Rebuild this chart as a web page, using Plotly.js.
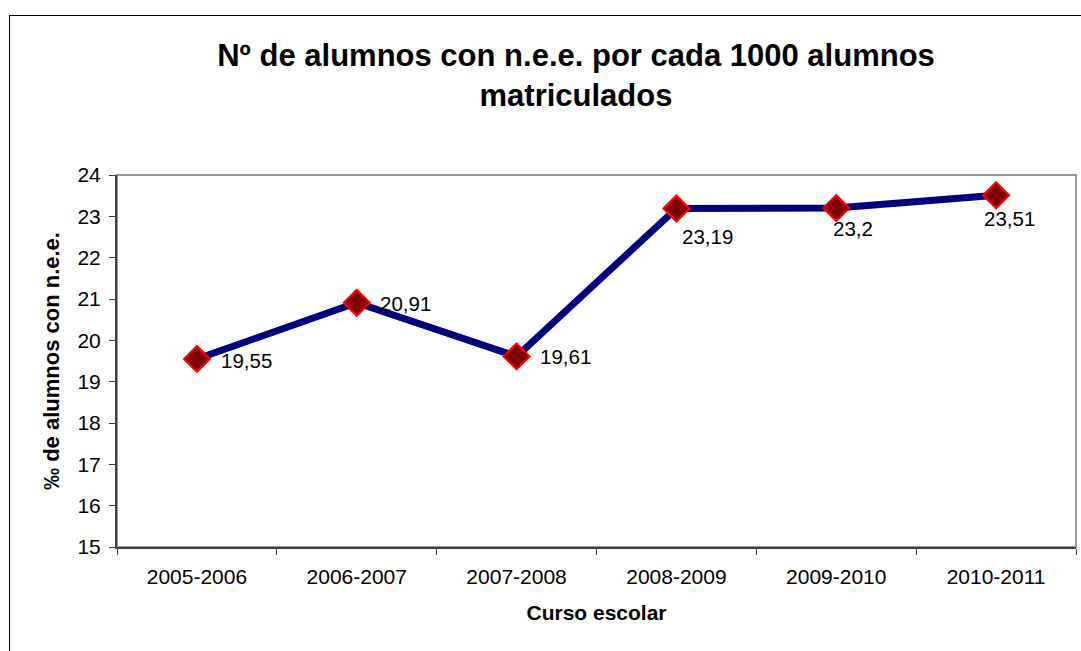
<!DOCTYPE html>
<html>
<head>
<meta charset="utf-8">
<script src="https://cdn.plot.ly/plotly-3.0.1.min.js"></script>
<style>
  html, body { margin: 0; padding: 0; overflow: hidden; background: #fff; }
  #myDiv { position: absolute; left: 0; top: 0; width: 1081px; height: 651px; }
  #frame { position: absolute; left: 9px; top: 15px; width: 1200px; height: 800px;
           border-left: 1px solid #000; border-top: 1px solid #000; pointer-events: none; }
</style>
</head>
<body>
<div id="myDiv"></div>
<div id="frame"></div>
<script>
// data
var cursos = ['2005-2006', '2006-2007', '2007-2008', '2008-2009', '2009-2010', '2010-2011'];
var tasa = [19.55, 20.91, 19.61, 23.19, 23.2, 23.51];

// label placement (px offsets from each marker)
var shiftX = [22, 21, 21, 4, -5, -14];
var shiftY = [-2, -1, 0, -28, -20, -23];

var fuente = 'Liberation Sans, Arial, sans-serif';

var trace1 = {
  x: cursos,
  y: tasa,
  type: 'scatter',
  mode: 'lines+markers',
  line: { color: '#000080', width: 7 },
  marker: { symbol: 'diamond', size: 20, color: '#800000', line: { color: '#FF0000', width: 2 } },
  hoverinfo: 'x+y'
};

var etiquetas = [];
for (var i = 0; i < tasa.length; i++) {
  etiquetas.push({
    x: cursos[i],
    y: tasa[i],
    xref: 'x', yref: 'y',
    text: String(tasa[i]).replace('.', ','),
    showarrow: false,
    xanchor: 'left', yanchor: 'middle',
    xshift: shiftX[i], yshift: shiftY[i],
    font: { family: fuente, size: 20.5, color: '#000' }
  });
}

var layout = {
  width: 1081,
  height: 651,
  margin: { l: 117, r: 5, t: 175, b: 104 },
  paper_bgcolor: 'rgba(0,0,0,0)',
  plot_bgcolor: '#fff',
  showlegend: false,
  font: { family: fuente, color: '#000' },
  title: {
    text: '<b>Nº de alumnos con n.e.e. por cada 1000 alumnos<br>matriculados</b>',
    font: { family: fuente, size: 31, color: '#000' },
    xref: 'container', x: 576 / 1081, xanchor: 'center',
    yref: 'container', y: 1 - 66 / 651, yanchor: 'middle'
  },
  xaxis: {
    type: 'category',
    range: [-0.5, 5.5],
    tickson: 'boundaries',
    ticks: 'outside', ticklen: 6, tickcolor: '#404040', tickwidth: 1,
    ticklabelstandoff: 10,
    showline: true, linecolor: '#404040', linewidth: 2,
    showgrid: false, zeroline: false,
    tickfont: { family: fuente, size: 21, color: '#000' },
    title: { text: '<b>Curso escolar</b>', font: { family: fuente, size: 21, color: '#000' }, standoff: 18 }
  },
  yaxis: {
    range: [15, 24],
    dtick: 1,
    ticks: 'outside', ticklen: 6, tickcolor: '#404040', tickwidth: 1,
    ticklabelstandoff: 4,
    showline: true, linecolor: '#404040', linewidth: 2,
    showgrid: false, zeroline: false,
    tickfont: { family: fuente, size: 21, color: '#000' },
    title: { text: '<b>‰ de alumnos con n.e.e.</b>', font: { family: fuente, size: 22, color: '#000' }, standoff: 12 }
  },
  shapes: [{
    type: 'rect', xref: 'paper', yref: 'paper', x0: 0, x1: 1, y0: 0, y1: 1,
    line: { color: '#999999', width: 2 }, layer: 'below'
  }],
  annotations: etiquetas
};

Plotly.newPlot('myDiv', [trace1], layout, { displayModeBar: false, staticPlot: true });
</script>
</body>
</html>
